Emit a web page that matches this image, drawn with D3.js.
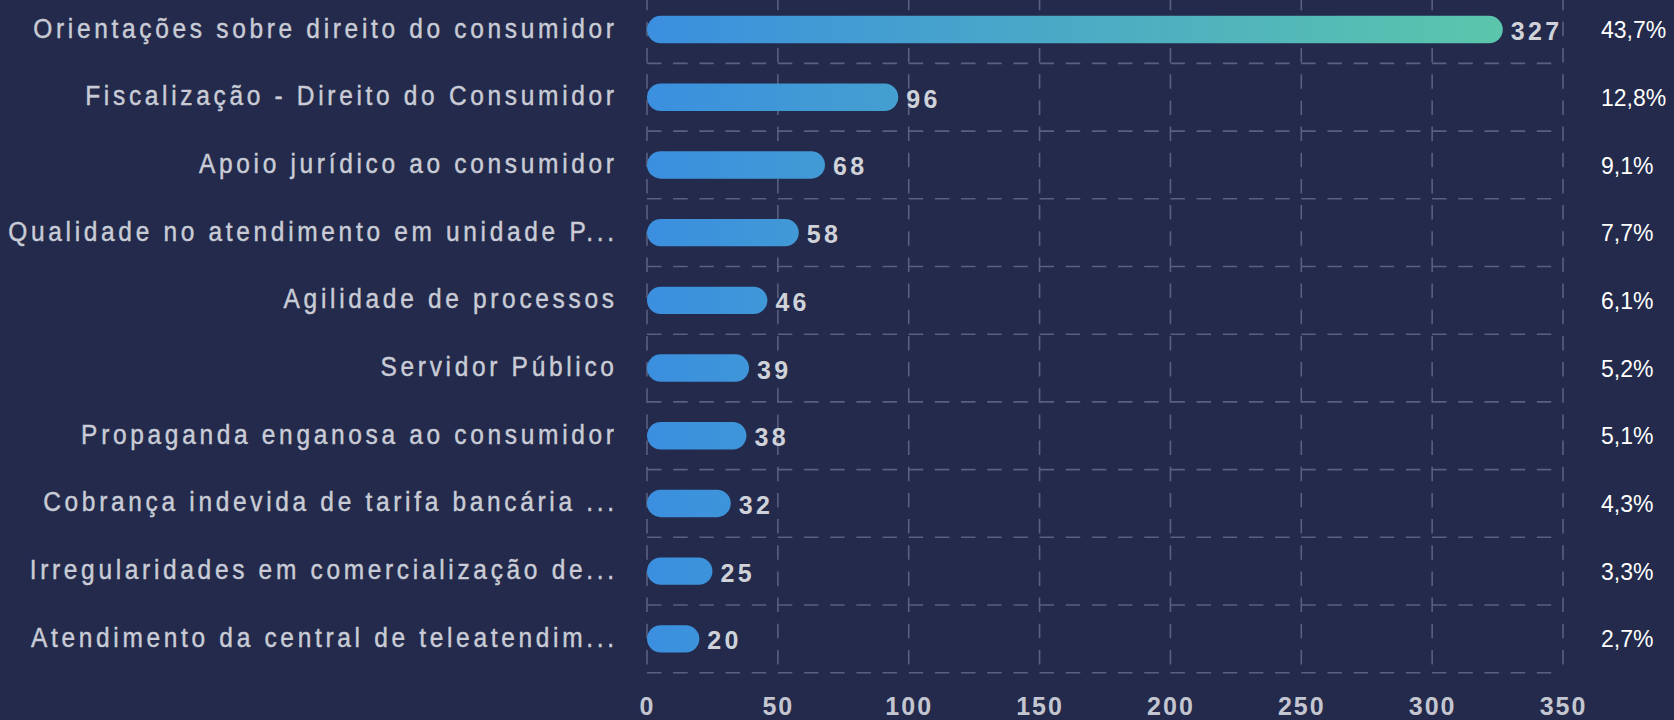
<!DOCTYPE html>
<html>
<head>
<meta charset="utf-8">
<script src="https://cdn.jsdelivr.net/npm/d3@7"></script>
<style>
  html, body { margin: 0; padding: 0; background: #232a4b; }
  svg { display: block; }
</style>
</head>
<body>
<svg id="chart" width="1674" height="720"></svg>
<script>
const categories = [
  "Orientações sobre direito do consumidor",
  "Fiscalização - Direito do Consumidor",
  "Apoio jurídico ao consumidor",
  "Qualidade no atendimento em unidade P...",
  "Agilidade de processos",
  "Servidor Público",
  "Propaganda enganosa ao consumidor",
  "Cobrança indevida de tarifa bancária ...",
  "Irregularidades em comercialização de...",
  "Atendimento da central de teleatendim..."
];
const values = [327, 96, 68, 58, 46, 39, 38, 32, 25, 20];
const percentLabels = ["43,7%", "12,8%", "9,1%", "7,7%", "6,1%", "5,2%", "5,1%", "4,3%", "3,3%", "2,7%"];
const xTicks = [0, 50, 100, 150, 200, 250, 300, 350];

const W = 1674, H = 720;
const plotLeft = 647, plotRight = 1563, plotTop = -4.3, plotBottom = 672.7;

const svg = d3.select("#chart");
svg.append("rect").attr("width", W).attr("height", H).attr("fill", "#232a4b");

const x = d3.scaleLinear().domain([0, 350]).range([plotLeft, plotRight]);
const y = d3.scaleBand().domain(categories).range([plotTop, plotBottom]).padding(0);
const barH = y.bandwidth() * 0.404;

// gradient
const defs = svg.append("defs");
const grad = defs.append("linearGradient")
  .attr("id", "barGrad")
  .attr("gradientUnits", "userSpaceOnUse")
  .attr("x1", x(0)).attr("x2", x(d3.max(values)))
  .attr("y1", 0).attr("y2", 0);
grad.append("stop").attr("offset", "0%").attr("stop-color", "#3b8fdf");
grad.append("stop").attr("offset", "100%").attr("stop-color", "#5bc6ab");

// grid
const gridColor = "#5a607d";
const grid = svg.append("g");
const hLines = categories.map(c => y(c)).concat([plotBottom]);
grid.selectAll("line.h").data(hLines).join("line")
  .attr("class", "h")
  .attr("x1", plotLeft).attr("x2", plotRight)
  .attr("y1", d => d).attr("y2", d => d)
  .attr("stroke", gridColor).attr("stroke-width", 1.6)
  .attr("stroke-dasharray", "14.5,11.67");
grid.selectAll("line.v").data(xTicks).join("line")
  .attr("class", "v")
  .attr("x1", d => x(d)).attr("x2", d => x(d))
  .attr("y1", plotTop).attr("y2", plotBottom)
  .attr("stroke", gridColor).attr("stroke-width", 1.6)
  .attr("stroke-dasharray", "14.5,11.67");

// bars
svg.append("g").selectAll("rect").data(values).join("rect")
  .attr("x", x(0))
  .attr("y", (d, i) => y(categories[i]) + y.bandwidth() / 2 - barH / 2)
  .attr("width", d => x(d) - x(0))
  .attr("height", barH)
  .attr("rx", barH / 2).attr("ry", barH / 2)
  .attr("fill", "url(#barGrad)");

// value labels
svg.append("g").selectAll("text").data(values).join("text")
  .attr("x", d => x(d) + 8)
  .attr("y", (d, i) => y(categories[i]) + y.bandwidth() / 2 + 10.5)
  .attr("font-family", "'Liberation Sans', Arial, sans-serif")
  .attr("font-weight", "bold")
  .attr("font-size", 25)
  .attr("letter-spacing", 3.3)
  .attr("fill", "#d0d2da")
  .text(d => d);

// percent labels
svg.append("g").selectAll("text").data(percentLabels).join("text")
  .attr("x", 1601)
  .attr("y", (d, i) => y(categories[i]) + y.bandwidth() / 2 + 8.6)
  .attr("font-family", "'Liberation Sans', Arial, sans-serif")
  .attr("font-size", 23)
  .attr("fill", "#ffffff")
  .text(d => d);

// category axis
const ls = 4.2, sx = 0.875;
const yAxis = svg.append("g")
  .attr("transform", `translate(${614 + ls * sx},0)`)
  .call(d3.axisLeft(y).tickSize(0).tickPadding(0));
yAxis.select(".domain").remove();
yAxis.selectAll("text")
  .attr("x", 0)
  .attr("dy", null)
  .attr("y", 8)
  .attr("transform", `scale(${sx},1)`)
  .attr("font-family", "'Liberation Sans', Arial, sans-serif")
  .attr("font-size", 28)
  .attr("letter-spacing", ls)
  .attr("fill", "#c9ccd6")
  .attr("stroke", "#c9ccd6")
  .attr("stroke-width", 0.45)
  .attr("text-anchor", "end");

// x axis
const xAxis = svg.append("g")
  .attr("transform", `translate(0,${plotBottom})`)
  .call(d3.axisBottom(x).tickValues(xTicks).tickSize(0).tickPadding(0));
xAxis.select(".domain").remove();
xAxis.selectAll("text")
  .attr("y", 42.5)
  .attr("dy", null)
  .attr("font-family", "'Liberation Sans', Arial, sans-serif")
  .attr("font-weight", "bold")
  .attr("font-size", 25)
  .attr("letter-spacing", 2)
  .attr("fill", "#c3c6d0");
</script>
</body>
</html>
